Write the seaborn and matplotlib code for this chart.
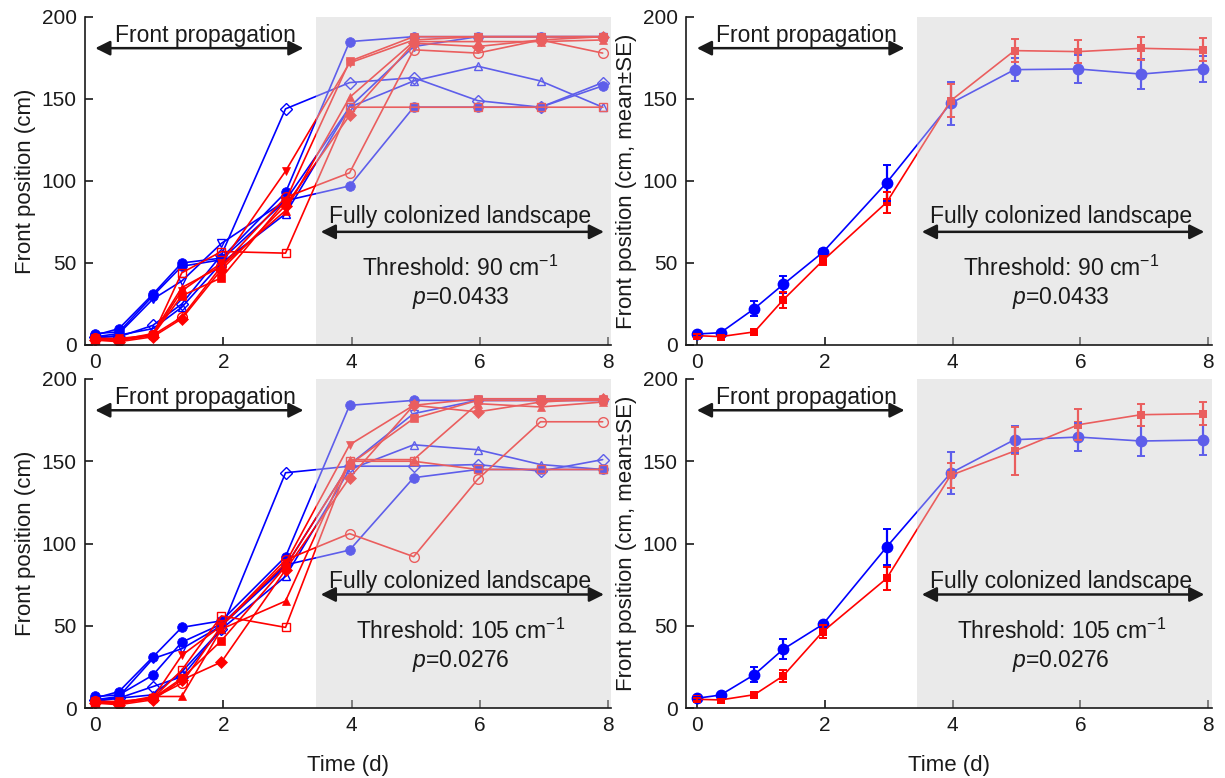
import numpy as np
import pandas as pd
import matplotlib
matplotlib.use("Agg")
import matplotlib.pyplot as plt
import seaborn as sns

sns.set_theme(style="ticks")
plt.rcParams['font.family'] = ['Liberation Sans', 'DejaVu Sans']
plt.rcParams['mathtext.fontset'] = 'custom'
plt.rcParams['mathtext.rm'] = 'Liberation Sans'
plt.rcParams['mathtext.it'] = 'Liberation Sans:italic'
for k in ('text.color', 'axes.labelcolor', 'xtick.color', 'ytick.color', 'axes.edgecolor'):
    plt.rcParams[k] = 'black'

# ---------------- data ----------------
times = [0, 0.37, 0.9, 1.35, 1.97, 2.97, 3.97, 4.97, 5.97, 6.95, 7.92]

# replicate markers: (marker, filled)
blue_markers = [("o", True), ("o", True), ("D", False), ("^", False), ("v", False)]
red_markers = [("s", True), ("^", True), ("v", True), ("D", True), ("o", False), ("s", False)]

# Threshold 90 cm-1 (top-left)
blue_90 = [
    [6, 10, 31, 50, 53, 93, 185, 188, 188, 188, 188],
    [7, 8, 30, 48, 52, 88, 97, 145, 145, 145, 158],
    [5, 5, 12, 25, 55, 144, 160, 163, 149, 145, 160],
    [4, 6, 10, 23, 50, 80, 145, 161, 170, 161, 145],
    [5, 7, 28, 39, 62, 88, 145, 182, 188, 188, 188],
]
red_90 = [
    [3, 3, 6, 30, 41, 88, 173, 188, 188, 188, 188],
    [3, 3, 7, 35, 48, 82, 151, 185, 185, 185, 186],
    [4, 4, 6, 33, 50, 106, 172, 186, 188, 188, 188],
    [3, 2, 5, 16, 46, 85, 140, 184, 182, 186, 188],
    [4, 3, 6, 17, 48, 90, 105, 180, 178, 186, 178],
    [3, 3, 6, 44, 57, 56, 145, 145, 145, 145, 145],
]
# Threshold 105 cm-1 (bottom-left)
blue_105 = [
    [6, 10, 31, 49, 53, 92, 184, 187, 187, 187, 187],
    [7, 8, 20, 40, 51, 87, 96, 140, 145, 145, 145],
    [5, 6, 13, 19, 48, 143, 147, 147, 148, 144, 151],
    [4, 6, 8, 22, 48, 80, 145, 160, 157, 148, 145],
    [5, 7, 30, 36, 50, 86, 148, 179, 187, 187, 187],
]
red_105 = [
    [3, 3, 6, 18, 41, 86, 148, 176, 187, 187, 187],
    [3, 3, 7, 7, 48, 65, 151, 151, 185, 183, 186],
    [4, 4, 6, 32, 50, 88, 160, 184, 188, 188, 188],
    [3, 2, 5, 17, 28, 84, 140, 184, 180, 186, 188],
    [4, 3, 6, 15, 50, 90, 106, 92, 139, 174, 174],
    [3, 3, 6, 23, 56, 49, 150, 150, 145, 145, 145],
]

# means +- SE (right panels)
blue_mean_90 = [6.7, 7.5, 22.2, 36.9, 56.5, 99, 147.3, 167.9, 168.3, 165.2, 168.3]
blue_se_90 = [1.0, 1.0, 4.7, 5.1, 2.0, 11, 13, 7.1, 8.4, 8.9, 7.9]
red_mean_90 = [5.7, 5.1, 8.0, 27.5, 51.4, 87, 148.9, 179.5, 178.9, 180.9, 180.1]
red_se_90 = [0.8, 0.8, 1.0, 4.9, 2.9, 6.5, 10.1, 6.8, 6.9, 6.9, 6.8]

blue_mean_105 = [5.9, 7.9, 20.3, 35.7, 50.8, 97.9, 142.8, 163.1, 164.7, 162.3, 162.9]
blue_se_105 = [1.0, 1.0, 4.4, 6.1, 1.5, 10.7, 12.8, 8.1, 8.5, 9.1, 9.3]
red_mean_105 = [5.3, 4.9, 8.1, 19.5, 46.4, 78.8, 141.4, 156.2, 172.2, 178.3, 178.9]
red_se_105 = [0.8, 0.8, 1.0, 3.4, 4.0, 7.1, 7.4, 14.6, 9.4, 6.8, 7.1]

thresholds = ["90", "105"]
pvalues = ["0.0433", "0.0276"]

BLUE = "#0000ff"
RED = "#ff0000"

# ---------------- figure ----------------
fig = plt.figure(figsize=(12.25, 7.78), dpi=100)
L1, L2, W = 85 / 1225, 686 / 1225, 526 / 1225
rows = [(1 - 345 / 778, (345 - 17) / 778), (1 - 708 / 778, (708 - 379) / 778)]

FS_TICK = 15
FS_LAB = 16
FS_TXT = 16.5


def style_axes(ax, xlim, show_xlabel, ylabel):
    ax.set_xlim(*xlim)
    ax.set_ylim(0, 200)
    ax.set_xticks([0, 2, 4, 6, 8])
    ax.set_yticks([0, 50, 100, 150, 200])
    sns.despine(ax=ax)
    ax.tick_params(direction="in", length=6, width=1.2, labelsize=FS_TICK, pad=6, colors="k")
    for s in ("left", "bottom"):
        ax.spines[s].set_linewidth(1.2)
        ax.spines[s].set_color("k")
        ax.spines[s].set_zorder(10)
    ax.set_ylabel(ylabel, fontsize=FS_LAB, labelpad=4, color="k")
    if show_xlabel:
        ax.set_xlabel("Time (d)", fontsize=FS_LAB, labelpad=14, color="k")
    else:
        ax.set_xlabel("")
    ax.axvspan(3.45, xlim[1], color="#d2d2d2", alpha=0.45, lw=0, zorder=4)


def annotate(ax, thr, pv, row):
    akw = dict(arrowstyle="<|-|>", color="k", lw=1.8, mutation_scale=22, shrinkA=0, shrinkB=0)
    ax.text(1.72, 189, "Front propagation", ha="center", va="center", fontsize=FS_TXT, zorder=6, color="k")
    ax.annotate("", xy=(3.25, 181), xytext=(0, 181), arrowprops=akw, zorder=6)
    yf = 78.5 if row == 0 else 77
    ax.text(5.7, yf, "Fully colonized landscape", ha="center", va="center", fontsize=FS_TXT, zorder=6, color="k")
    ax.annotate("", xy=(7.94, 69), xytext=(3.52, 69), arrowprops=akw, zorder=6)
    ax.text(5.7, 46.5, "Threshold: " + thr + r" cm$^{-1}$", ha="center", va="center", fontsize=FS_TXT, zorder=6, color="k")
    ax.text(5.7, 28.5, r"$p$=" + pv, ha="center", va="center", fontsize=FS_TXT, zorder=6, color="k")


def draw_reps(ax, reps, markers, color):
    for vals, (mk, filled) in zip(reps, markers):
        df = pd.DataFrame({"t": times, "v": vals})
        sns.lineplot(data=df, x="t", y="v", ax=ax, color=color, lw=1.2,
                     marker=mk, markersize=7 if mk == "o" else 6,
                     markerfacecolor=color if filled else "none",
                     markeredgecolor=color, markeredgewidth=1.0 if not filled else 0.5,
                     estimator=None, sort=False, zorder=2)


data_sets = [
    (blue_90, red_90, blue_mean_90, blue_se_90, red_mean_90, red_se_90),
    (blue_105, red_105, blue_mean_105, blue_se_105, red_mean_105, red_se_105),
]

for r, (bottom, height) in enumerate(rows):
    breps, rreps, bm, bse, rm, rse = data_sets[r]
    # left: replicates
    axl = fig.add_axes([L1, bottom, W, height])
    draw_reps(axl, breps, blue_markers, BLUE)
    draw_reps(axl, rreps, red_markers, RED)
    style_axes(axl, (-0.16, 8.05), r == 1, "Front position (cm)")
    annotate(axl, thresholds[r], pvalues[r], r)

    # right: mean +- SE
    axr = fig.add_axes([L2, bottom, W, height])
    dfm = pd.DataFrame({"t": times * 2,
                        "v": list(bm) + list(rm),
                        "g": ["b"] * len(times) + ["r"] * len(times)})
    sns.lineplot(data=dfm, x="t", y="v", hue="g", style="g",
                 palette={"b": BLUE, "r": RED}, markers={"b": "o", "r": "s"},
                 dashes=False, lw=1.2, markersize=7, markeredgewidth=0,
                 ax=axr, legend=False, zorder=2)
    axr.errorbar(times, bm, yerr=bse, fmt="none", ecolor=BLUE, elinewidth=1.6, capsize=3, capthick=1.4, zorder=2)
    axr.errorbar(times, rm, yerr=rse, fmt="none", ecolor=RED, elinewidth=1.6, capsize=3, capthick=1.4, zorder=2)
    for ln in axr.lines:
        if ln.get_marker() == "s":
            ln.set_markersize(5.5)
        elif ln.get_marker() == "o":
            ln.set_markersize(8.5)
    style_axes(axr, (-0.17, 8.06), r == 1, "Front position (cm, mean\u00b1SE)")
    annotate(axr, thresholds[r], pvalues[r], r)

fig.savefig("out.png", dpi=100)
